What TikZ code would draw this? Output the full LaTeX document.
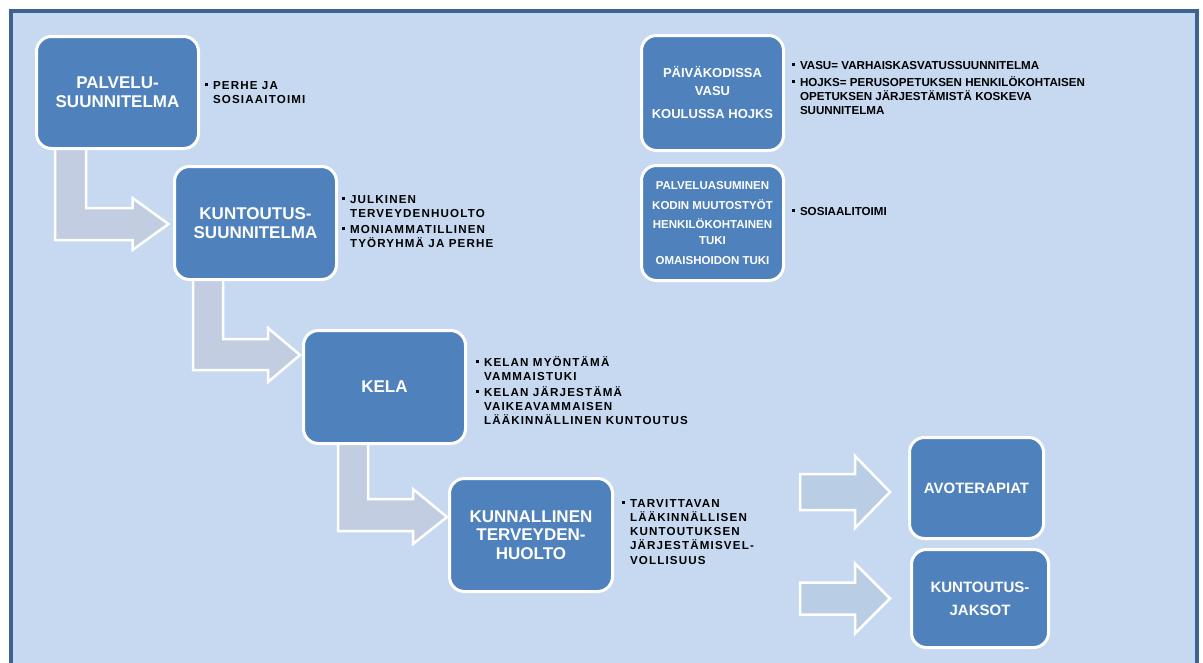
\documentclass[tikz,border=0pt]{standalone}
\usepackage{fontspec}
\setmainfont{Liberation Sans}
\usetikzlibrary{calc}
\definecolor{bgc}{HTML}{C6D9F1}
\definecolor{framec}{HTML}{3D6393}
\definecolor{boxc}{HTML}{4F81BD}
\definecolor{barc}{HTML}{C3CDE1}
\definecolor{sarc}{HTML}{B9CDE5}
\newcommand\bul{\rule[2.8pt]{2.9pt}{2.9pt}}
\newcommand\blist[1]{{\fontsize{11.6}{14.3}\selectfont\bfseries\begin{tabular}[t]{@{}l@{\hspace{5.1pt}}l@{}}#1\end{tabular}}}
\newcommand\wlist[1]{{\fontsize{11.6}{14.3}\selectfont\bfseries\addfontfeatures{LetterSpace=10}\begin{tabular}[t]{@{}l@{\hspace{5.1pt}}l@{}}#1\end{tabular}}}
\tikzset{
  bbox/.style={draw=white, line width=3pt, fill=boxc, rounded corners=15pt,
    text=white, font=\bfseries, align=center, inner sep=0pt, outer sep=0pt},
  notes/.style={anchor=base west, inner sep=0pt, outer sep=0pt, text=black},
  bentarrow/.style={draw=white, line width=2.5pt, fill=barc, line join=miter},
  sarrow/.style={draw=white, line width=2.5pt, fill=sarc, line join=miter}
}
\begin{document}
\begin{tikzpicture}[x=1pt,y=-1pt]
\useasboundingbox (0,0) rectangle (1203,662);
\clip (0,0) rectangle (1203,662);
\fill[white] (0,0) rectangle (1203,662);
\draw[line width=4pt, draw=framec, fill=bgc] (10.5,11) rectangle (1197,690);

% box centres
\path
 coordinate (cpal) at (117.5,92.5)
 coordinate (ckun) at (255.5,223)
 coordinate (ckela) at (384.5,387)
 coordinate (ckth) at (531,535)
 coordinate (cpvk) at (712.5,93)
 coordinate (cpas) at (712.5,223)
 coordinate (cavo) at (976.5,485)
 coordinate (cjak) at (980,598.5);

% invisible placement of nodes first for anchors
\node[bbox, draw=none, fill=none, minimum width=162pt, minimum height=112pt] (pal) at (cpal) {};
\node[bbox, draw=none, fill=none, minimum width=162pt, minimum height=113pt] (kun) at (ckun) {};
\node[bbox, draw=none, fill=none, minimum width=162pt, minimum height=113pt] (kela) at (ckela) {};
\node[bbox, draw=none, fill=none, minimum width=163pt, minimum height=113pt] (kth) at (ckth) {};
\node[bbox, draw=none, fill=none, minimum width=134pt, minimum height=101pt] (avo) at (cavo) {};
\node[bbox, draw=none, fill=none, minimum width=137pt, minimum height=98pt] (jak) at (cjak) {};

% bent arrows
\coordinate (s1) at ($(pal.south west)+(18.5,-2)$);
\coordinate (t1) at ($(kun.west)+(-6,1)$);
\draw[bentarrow] (s1) -- ($(s1|-t1)+(0,16)$) -- ($(t1)+(-36,16)$) -- ($(t1)+(-36,26)$) -- (t1)
  -- ($(t1)+(-36,-26)$) -- ($(t1)+(-36,-16)$) -- ($(s1|-t1)+(31,-16)$) -- ($(s1)+(31,0)$) -- cycle;
\coordinate (s2) at ($(kun.south west)+(18.5,-2)$);
\coordinate (t2) at ($(kela.west)+(-3.5,-32)$);
\draw[bentarrow] (s2) -- ($(s2|-t2)+(0,15)$) -- ($(t2)+(-32,15)$) -- ($(t2)+(-32,27)$) -- (t2)
  -- ($(t2)+(-32,-27)$) -- ($(t2)+(-32,-16)$) -- ($(s2|-t2)+(30,-16)$) -- ($(s2)+(30,0)$) -- cycle;
\coordinate (s3) at ($(kela.south west)+(34.5,-2)$);
\coordinate (t3) at ($(kth.west)+(-2.5,-18)$);
\draw[bentarrow] (s3) -- ($(s3|-t3)+(0,14)$) -- ($(t3)+(-34,14)$) -- ($(t3)+(-34,27)$) -- (t3)
  -- ($(t3)+(-34,-28)$) -- ($(t3)+(-34,-18)$) -- ($(s3|-t3)+(30,-18)$) -- ($(s3)+(30,0)$) -- cycle;

% straight arrows
\coordinate (ta) at ($(avo.west)+(-19.5,7)$);
\coordinate (fa) at ($(ta)+(-90,0)$);
\draw[sarrow] ($(fa)+(0,-18)$) -- ($(ta)+(-35,-18)$) -- ($(ta)+(-35,-36)$) -- (ta)
  -- ($(ta)+(-35,36)$) -- ($(ta)+(-35,18)$) -- ($(fa)+(0,18)$) -- cycle;
\coordinate (tb) at ($(jak.west)+(-21.5,0)$);
\coordinate (fb) at ($(tb)+(-90,0)$);
\draw[sarrow] ($(fb)+(0,-16)$) -- ($(tb)+(-35,-16)$) -- ($(tb)+(-35,-35)$) -- (tb)
  -- ($(tb)+(-35,35)$) -- ($(tb)+(-35,16)$) -- ($(fb)+(0,16)$) -- cycle;

% boxes drawn
\node[bbox, minimum width=162pt, minimum height=112pt, font=\fontsize{17}{19}\selectfont\bfseries] at (cpal) {PALVELU-\\SUUNNITELMA};
\node[bbox, minimum width=162pt, minimum height=113pt, font=\fontsize{17}{19}\selectfont\bfseries] at (ckun) {KUNTOUTUS-\\SUUNNITELMA};
\node[bbox, minimum width=162pt, minimum height=113pt, font=\fontsize{17}{19}\selectfont\bfseries] at (ckela) {KELA};
\node[bbox, minimum width=163pt, minimum height=113pt, font=\fontsize{17}{18.5}\selectfont\bfseries] at (ckth) {KUNNALLINEN\\TERVEYDEN-\\HUOLTO};
\node[bbox, minimum width=142pt, minimum height=115pt, font=\fontsize{13}{18}\selectfont\bfseries] (pvk) at (cpvk) {PÄIVÄKODISSA\\VASU\\[5pt]KOULUSSA HOJKS};
\node[bbox, minimum width=142pt, minimum height=115pt, font=\fontsize{11.5}{16}\selectfont\bfseries] (pas) at (cpas) {PALVELUASUMINEN\\[4pt]KODIN MUUTOSTYÖT\\[3pt]HENKILÖKOHTAINEN\\TUKI\\[4pt]OMAISHOIDON TUKI};
\node[bbox, minimum width=134pt, minimum height=101pt, font=\fontsize{15}{18}\selectfont\bfseries] at ([yshift=-3pt]cavo) {AVOTERAPIAT};
\node[bbox, minimum width=137pt, minimum height=98pt, font=\fontsize{15}{23}\selectfont\bfseries] at (cjak) {KUNTOUTUS-\\JAKSOT};

% notes
\node[notes] (npal) at (205,89) {\wlist{\bul & PERHE JA\\ & SOSIAAITOIMI}};
\node[notes] (nkun) at (342,203) {\wlist{\bul & JULKINEN\\ & TERVEYDENHUOLTO\\[1.5pt] \bul & MONIAMMATILLINEN\\ & TYÖRYHMÄ JA PERHE}};
\node[notes] (nkela) at (476,366) {\wlist{\bul & KELAN MYÖNTÄMÄ\\ & VAMMAISTUKI\\[1.5pt] \bul & KELAN JÄRJESTÄMÄ\\ & VAIKEAVAMMAISEN\\ & LÄÄKINNÄLLINEN KUNTOUTUS}};
\node[notes] (nkth) at (622,507) {\wlist{\bul & TARVITTAVAN\\ & LÄÄKINNÄLLISEN\\ & KUNTOUTUKSEN\\ & JÄRJESTÄMISVEL-\\ & VOLLISUUS}};
\node[notes] (npvk) at (792,69) {\blist{\bul & VASU= VARHAISKASVATUSSUUNNITELMA\\[2.7pt] \bul & HOJKS= PERUSOPETUKSEN HENKILÖKOHTAISEN\\ & OPETUKSEN JÄRJESTÄMISTÄ KOSKEVA\\ & SUUNNITELMA}};
\node[notes] (npas) at (792,215) {\blist{\bul & SOSIAALITOIMI}};
\end{tikzpicture}
\end{document}
